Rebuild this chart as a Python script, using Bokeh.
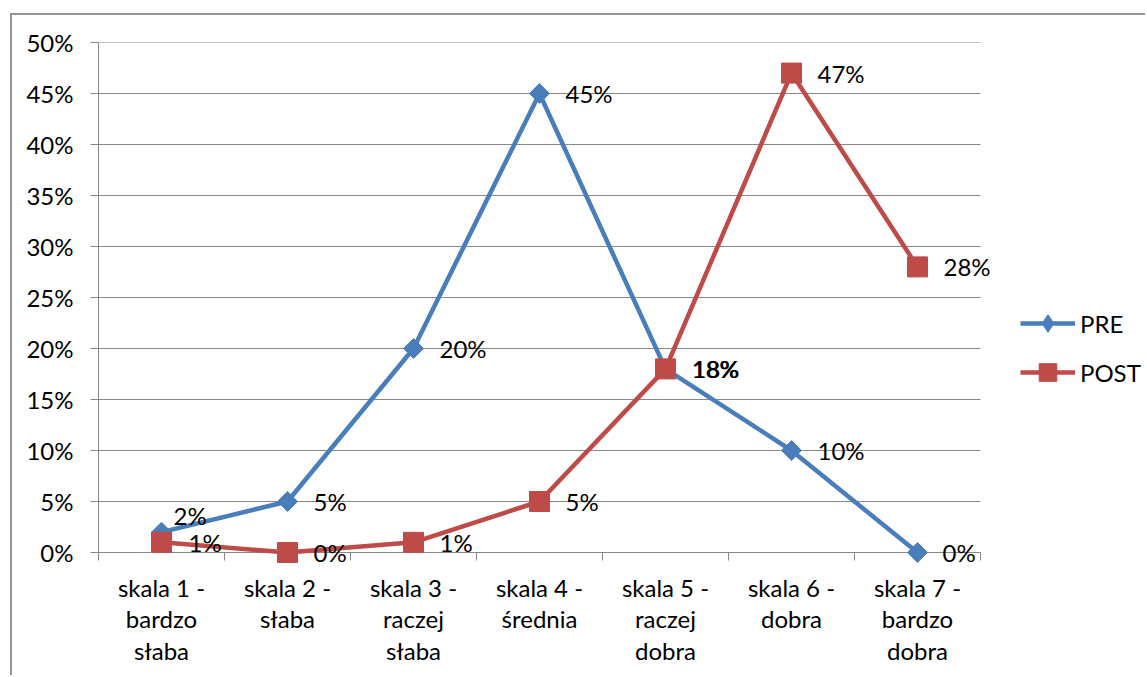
from bokeh.plotting import figure
from bokeh.models import (ColumnDataSource, Range1d, FixedTicker, Legend, LegendItem)
from bokeh.core.properties import value
from bokeh.embed import file_html
from bokeh.resources import INLINE
import math

# ---- data ----
categories = ["skala 1 -\nbardzo\nsłaba", "skala 2 -\nsłaba", "skala 3 -\nraczej\nsłaba",
              "skala 4 -\nśrednia", "skala 5 -\nraczej\ndobra", "skala 6 -\ndobra",
              "skala 7 -\nbardzo\ndobra"]
pre = [2, 5, 20, 45, 18, 10, 0]
post = [1, 0, 1, 5, 18, 47, 28]
y_ticks = [0, 5, 10, 15, 20, 25, 30, 35, 40, 45, 50]

# ---- style / layout (page pixels) ----
PAGE_W, PAGE_H = 1147, 677
BX, BY, BW = 10, 13, 2                       # chart border (left/top) position and width
OX, OY = BX + BW, BY + BW                    # canvas origin on the page
PLOT_L, PLOT_R, PLOT_T, PLOT_B = 98, 980, 42, 552   # axes box
FRAME_B = 564                                # frame extended a bit below the 0 line
FONT = "Lato"
FS = "24px"
BLUE = "#4A7EBB"
RED = "#BE4B48"
GRID = "#878787"
BORDER = "#959595"
pre_dx = [12, 26, 26, 26, 26, 26, 25]
pre_dy = [-17, 0, 0, 0, 0, 0, 0]
post_dx = [27, 26, 26, 26, 27, 26, 26]
post_dy = [0, 0, 0, 0, 0, 0, 0]

n = len(categories)
ymax = y_ticks[-1]
px_x = (PLOT_R - PLOT_L) / n
px_y = (PLOT_B - PLOT_T) / ymax
x_end = (PAGE_W - PLOT_L) / px_x
y_start = -(FRAME_B - PLOT_B) / px_y
CW, CH = PAGE_W - OX, PAGE_H - OY

xs = [i + 0.5 for i in range(n)]

p = figure(width=CW, height=CH, output_backend="svg", toolbar_location=None,
           x_range=Range1d(0, x_end), y_range=Range1d(y_start, ymax),
           min_border_left=PLOT_L - OX, min_border_right=0, min_border_top=PLOT_T - OY,
           min_border_bottom=CH - (FRAME_B - OY))
p.margin = (BY, 0, 0, BX)
p.styles = {"border-left": f"{BW}px solid {BORDER}", "border-top": f"{BW}px solid {BORDER}"}
p.outline_line_color = None
p.background_fill_color = "white"
p.border_fill_color = "white"
p.xgrid.grid_line_color = None
p.ygrid.grid_line_color = None

# y axis
ya = p.yaxis[0]
ya.ticker = FixedTicker(ticks=y_ticks)
ya.bounds = (0, ymax)
ya.major_label_overrides = {t: f"{t}%" for t in y_ticks}
ya.axis_line_color = GRID
ya.major_tick_line_color = GRID
ya.major_tick_out = 8
ya.major_tick_in = 0
ya.minor_tick_line_color = None
ya.major_label_standoff = 17
ya.major_label_text_font = FONT
ya.major_label_text_font_size = FS
ya.major_label_text_color = "black"

# x axis: sits on the frame bottom; its line is the 0 gridline, boundary ticks reach up to it
xa = p.xaxis[0]
xa.ticker = FixedTicker(ticks=xs, minor_ticks=list(range(n + 1)))
xa.major_label_overrides = {x: c for x, c in zip(xs, categories)}
xa.axis_line_color = None
xa.major_tick_line_color = None
xa.major_tick_out = 0
xa.major_tick_in = 0
xa.minor_tick_line_color = GRID
xa.minor_tick_in = FRAME_B - PLOT_B
xa.minor_tick_out = 8 - (FRAME_B - PLOT_B)
xa.major_label_standoff = 8
xa.major_label_text_font = FONT
xa.major_label_text_font_size = FS
xa.major_label_text_color = "black"
xa.major_label_text_line_height = 1.1

# horizontal gridlines (incl. the 0 line = category axis) limited to the axes box
p.segment(x0=[0] * len(y_ticks), x1=[n] * len(y_ticks), y0=y_ticks, y1=y_ticks,
          line_color=GRID, line_width=1)

src_pre = ColumnDataSource(dict(x=xs, y=pre, t=[f"{v}%" for v in pre], dx=pre_dx, dy=pre_dy))
src_post = ColumnDataSource(dict(x=xs, y=post, t=[f"{v}%" for v in post], dx=post_dx, dy=post_dy))

l1 = p.line("x", "y", source=src_pre, line_color=BLUE, line_width=4.5)
m1 = p.scatter("x", "y", source=src_pre, marker="square", angle=math.pi / 4, size=14,
               fill_color=BLUE, line_color=BLUE)
m1_leg = p.scatter("x", "y", source=src_pre, marker="diamond", size=14,
                   fill_color=BLUE, line_color=BLUE, visible=False)
l2 = p.line("x", "y", source=src_post, line_color=RED, line_width=4.5)
m2 = p.scatter("x", "y", source=src_post, marker="square", size=20,
               fill_color=RED, line_color=RED)

for src in (src_pre, src_post):
    p.text("x", "y", text="t", source=src, x_offset="dx", y_offset="dy",
           text_font=value(FONT), text_font_size=FS, text_color="black",
           text_align="left", text_baseline="middle")

legend = Legend(items=[LegendItem(label="PRE", renderers=[l1, m1_leg]),
                       LegendItem(label="POST", renderers=[l2, m2])],
                location=(1020 - PLOT_L, FRAME_B - 394), orientation="vertical",
                glyph_width=55, glyph_height=44, label_height=24, spacing=5,
                label_standoff=5, padding=0, margin=0,
                border_line_color=None, background_fill_alpha=0,
                label_text_font=FONT, label_text_font_size=FS, label_text_color="black")
p.add_layout(legend, "center")

open("out.html", "w").write(file_html(p, INLINE))
